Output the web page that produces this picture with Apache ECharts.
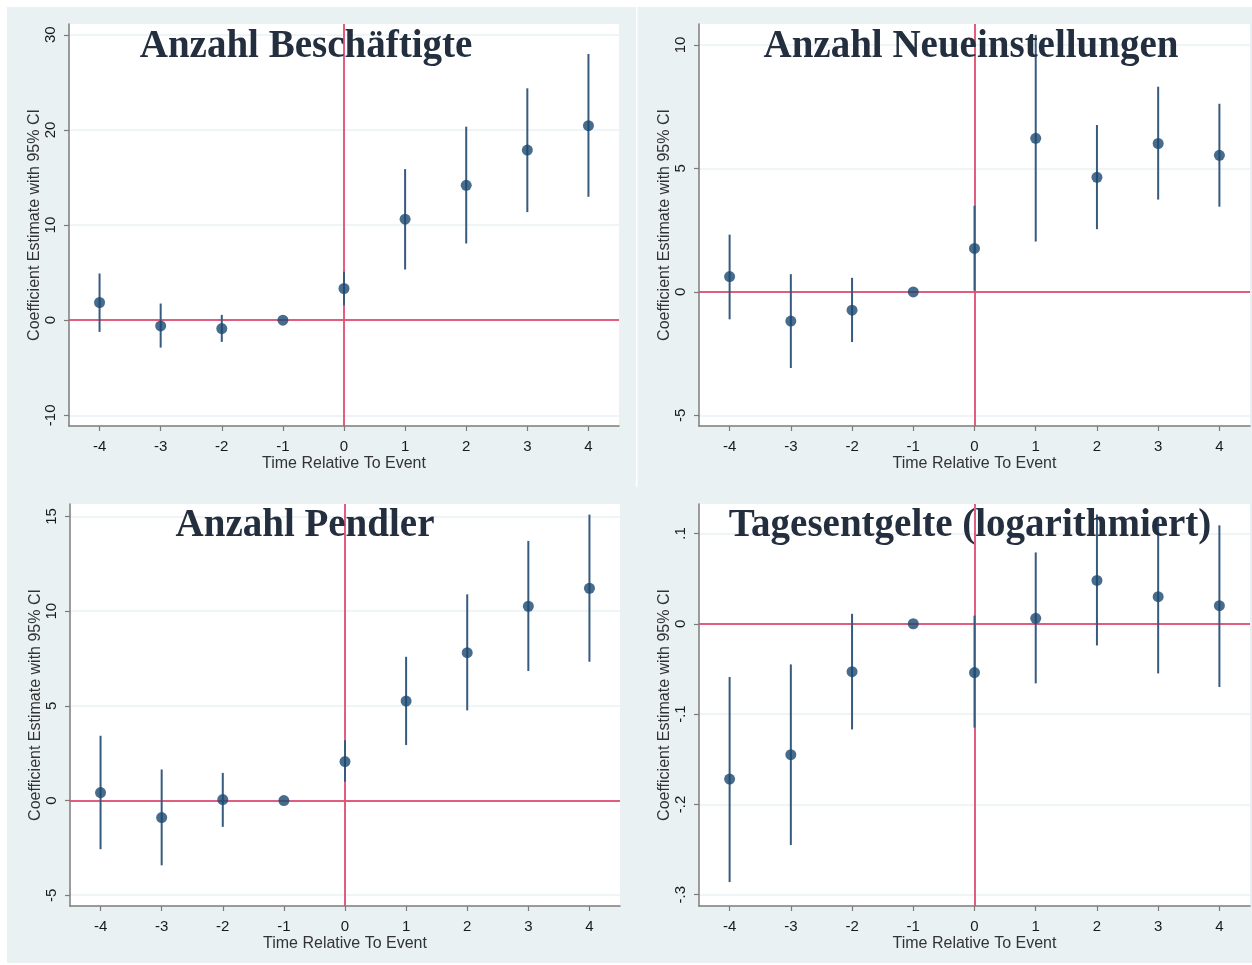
<!DOCTYPE html>
<html><head><meta charset="utf-8">
<script src="https://cdn.jsdelivr.net/npm/echarts@6/dist/echarts.min.js"></script>
<style>html,body{margin:0;padding:0;background:#fff}#c{width:1252px;height:965px}</style>
</head><body><div id="c"></div>
<script>
// ---- data ----
const periods = [-4, -3, -2, -1, 0, 1, 2, 3, 4];

const titles = ['Anzahl Beschäftigte', 'Anzahl Neueinstellungen', 'Anzahl Pendler', 'Tagesentgelte (logarithmiert)'];

const est1 = [1.86, -0.6, -0.88, 0, 3.33, 10.62, 14.17, 17.88, 20.44];
const lo1  = [-1.23, -2.88, -2.28, null, 1.58, 5.33, 8.06, 11.36, 12.97];
const hi1  = [4.91, 1.75, 0.56, null, 5.08, 15.88, 20.34, 24.37, 27.98];
const ticks1 = [-10, 0, 10, 20, 30];

const est2 = [0.62, -1.18, -0.74, 0, 1.76, 6.22, 4.64, 6.01, 5.53];
const lo2  = [-1.11, -3.08, -2.03, null, 0.05, 2.04, 2.54, 3.74, 3.45];
const hi2  = [2.32, 0.72, 0.57, null, 3.49, 10.41, 6.76, 8.31, 7.62];
const ticks2 = [-5, 0, 5, 10];

const est3 = [0.42, -0.9, 0.05, 0, 2.06, 5.25, 7.81, 10.26, 11.21];
const lo3  = [-2.57, -3.42, -1.39, null, 0.99, 2.93, 4.76, 6.84, 7.33];
const hi3  = [3.42, 1.64, 1.46, null, 3.19, 7.59, 10.89, 13.71, 15.1];
const ticks3 = [-5, 0, 5, 10, 15];

const est4 = [-0.172, -0.145, -0.053, 0, -0.054, 0.006, 0.048, 0.030, 0.020];
const lo4  = [-0.286, -0.245, -0.117, null, -0.115, -0.066, -0.024, -0.055, -0.070];
const hi4  = [-0.059, -0.045, 0.011, null, 0.009, 0.079, 0.121, 0.116, 0.109];
const ticks4 = [-0.3, -0.2, -0.1, 0, 0.1];

const xName = 'Time Relative To Event';
const yName = 'Coefficient Estimate with 95% CI';

// ---- layout / style ----
const panels = [
  {est: est1, lo: lo1, hi: hi1, ticks: ticks1, ymin: -11.12, ymax: 31.13, grid: {left: 69, top: 24, width: 550, height: 402}, tx: 306, ty: 27},
  {est: est2, lo: lo2, hi: hi2, ticks: ticks2, ymin: -5.43, ymax: 10.85, grid: {left: 699, top: 24, width: 551, height: 402}, tx: 971, ty: 27},
  {est: est3, lo: lo3, hi: hi3, ticks: ticks3, ymin: -5.57, ymax: 15.66, grid: {left: 70, top: 504, width: 550, height: 402}, tx: 305, ty: 506},
  {est: est4, lo: lo4, hi: hi4, ticks: ticks4, ymin: -0.3125, ymax: 0.1326, grid: {left: 699, top: 504, width: 551, height: 402}, tx: 970, ty: 506}
];

const NAVY = '#1a476f';
const CI = '#375a7f';
const RED = '#df4d72';
const AXIS = '#7c7c7c';
const GRIDC = '#eaf1f3';
const BG = '#e9f1f3';

function fmtTick(v) {
  if (Math.abs(v) >= 1 || v === 0) return String(v);
  const s = Math.abs(v).toFixed(1).replace(/^0/, '');
  return (v < 0 ? '-' : '') + s;
}

const option = {
  animation: false,
  backgroundColor: '#ffffff',
  graphic: [
    {type: 'rect', z: -10, shape: {x: 7, y: 7, width: 1245, height: 956}, style: {fill: BG}},
    {type: 'rect', z: -9, shape: {x: 636, y: 7, width: 1.5, height: 480}, style: {fill: '#ffffff'}}
  ],
  title: [],
  grid: [],
  xAxis: [],
  yAxis: [],
  series: []
};

panels.forEach((p, i) => {
  option.title.push({
    text: titles[i], left: p.tx, top: p.ty, textAlign: 'center', padding: 0, z: 20,
    textStyle: {fontFamily: 'Liberation Serif', fontWeight: 'bold', fontSize: 39, color: '#232f3e'}
  });
  option.grid.push(Object.assign({show: true, backgroundColor: '#ffffff', borderWidth: 0, containLabel: false}, p.grid));
  option.xAxis.push({
    type: 'value', gridIndex: i, min: -4.5, max: 4.5,
    name: xName, nameLocation: 'middle', nameGap: 30,
    nameTextStyle: {fontFamily: 'Liberation Sans', fontSize: 16, color: '#333'},
    axisLine: {show: true, onZero: false, lineStyle: {color: AXIS, width: 1.5}},
    axisTick: {show: true, length: 5, customValues: periods, lineStyle: {color: AXIS, width: 1.2}},
    axisLabel: {customValues: periods, margin: 13, fontFamily: 'Liberation Sans', fontSize: 15, color: '#1a1a1a'},
    splitLine: {show: false}
  });
  option.yAxis.push({
    type: 'value', gridIndex: i, min: p.ymin, max: p.ymax,
    name: yName, nameLocation: 'middle', nameGap: 25, nameRotate: 90,
    nameTextStyle: {fontFamily: 'Liberation Sans', fontSize: 16, color: '#333'},
    axisLine: {show: true, onZero: false, lineStyle: {color: AXIS, width: 1.5}},
    axisTick: {show: true, length: 5, customValues: p.ticks, lineStyle: {color: AXIS, width: 1.2}},
    axisLabel: {customValues: p.ticks, rotate: 90, margin: 11, formatter: fmtTick, fontFamily: 'Liberation Sans', fontSize: 15, color: '#1a1a1a'},
    splitLine: {show: true, lineStyle: {color: GRIDC, width: 1.5}}
  });
  // reference lines
  option.series.push({
    type: 'line', xAxisIndex: i, yAxisIndex: i, data: [], z: 1, silent: true,
    markLine: {
      silent: true, symbol: 'none', label: {show: false}, animation: false, z: 1,
      lineStyle: {color: RED, width: 2, type: 'solid', opacity: 0.9},
      data: [{yAxis: 0}, {xAxis: 0}]
    }
  });
  // confidence intervals
  const ciData = periods.map((x, k) => [x, p.lo[k], p.hi[k]]).filter(d => d[1] !== null && d[2] !== null);
  option.series.push({
    type: 'custom', xAxisIndex: i, yAxisIndex: i, z: 3, silent: true,
    data: ciData,
    encode: {x: 0, y: [1, 2]},
    renderItem: function (params, api) {
      const a = api.coord([api.value(0), api.value(1)]);
      const b = api.coord([api.value(0), api.value(2)]);
      return {type: 'line', shape: {x1: a[0], y1: a[1], x2: b[0], y2: b[1]}, style: {stroke: CI, lineWidth: 2}};
    }
  });
  // point estimates
  option.series.push({
    type: 'scatter', xAxisIndex: i, yAxisIndex: i, z: 4, silent: true,
    symbol: 'circle', symbolSize: 11,
    itemStyle: {color: NAVY},
    data: periods.map((x, k) => [x, p.est[k]])
  });
});

const chart = echarts.init(document.getElementById('c'), null, {renderer: 'canvas'});
chart.setOption(option);
</script></body></html>
